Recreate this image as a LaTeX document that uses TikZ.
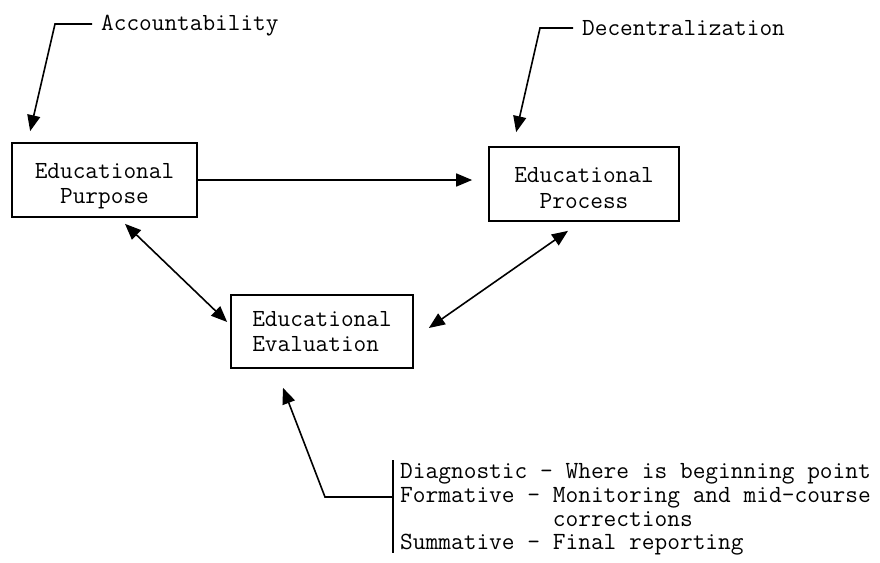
\documentclass[tikz,border=0pt]{standalone}
\usetikzlibrary{arrows.meta,calc}
\begin{document}
\begin{tikzpicture}[x=1pt,y=-1pt,
  every node/.style={font=\fontsize{24.6}{25.5}\selectfont\ttfamily},
  box/.style={draw,line width=1.7pt,inner sep=0pt,align=center},
  arr/.style={line width=1.6pt,-{Triangle[length=16pt,width=13pt]}},
  dbl/.style={line width=1.6pt,{Triangle[length=16pt,width=13pt]}-{Triangle[length=16pt,width=13pt]}},
  plain/.style={line width=1.6pt},
  item/.style={anchor=base west,inner sep=0pt,font=\fontsize{24.7}{23.5}\selectfont\ttfamily}]
\useasboundingbox (0,0) rectangle (880,562);

% the three boxes
\node[box,minimum width=185pt,minimum height=74pt] (purpose) at (104.5,180) {\rule{0pt}{27pt}Educational\\Purpose};
\node[box,minimum width=190pt,minimum height=74pt] (process) at (584,184) {\rule{0pt}{23pt}Educational\\Process};
\node[box,minimum width=182pt,minimum height=73pt,align=left] (eval) at (322,331.5) {Educational\\Evaluation};

% influences from above
\node[anchor=base west,inner sep=0pt] (acc) at (101,30) {Accountability};
\node[anchor=base west,inner sep=0pt] (dec) at (582,35) {Decentralization};
\coordinate (accstart) at (92,24);
\coordinate (accknee) at (55,24);
\coordinate (decstart) at (573,28);
\coordinate (decknee) at (540,28);
\draw[arr] (accstart) -- (accknee) -- ($(purpose.north west)+(19,-11)$);
\draw[arr] (decstart) -- (decknee) -- ($(process.north west)+(28,-14)$);

% links between the boxes
\draw[arr,shorten >=16pt] (purpose.east) -- (purpose.east -| process.west);
\draw[dbl] ($(purpose.south)+(20.5,6)$) -- ($(eval.west)+(-3,-9.5)$);
\draw[dbl] ($(process.south)+(-16,9)$) -- ($(eval.east)+(15,-3.5)$);

% kinds of evaluation
\coordinate (brktop) at (393,460);
\coordinate (brkbot) at (393,553);
\coordinate (brkmid) at (393,497);
\coordinate (fbknee) at (325,497);
\draw[plain] (brktop) -- (brkbot);
\draw[arr] (brkmid) -- (fbknee) -- ($(eval.south)+(-39,19)$);

\node[item] (diag) at (400,478) {Diagnostic - Where is beginning point};
\node[item] (form) at (400,502) {Formative - Monitoring and mid-course};
\node[item] (corr) at (400,526) {\phantom{Formative - }corrections};
\node[item] (summ) at (400,549) {Summative - Final reporting};
\end{tikzpicture}
\end{document}
